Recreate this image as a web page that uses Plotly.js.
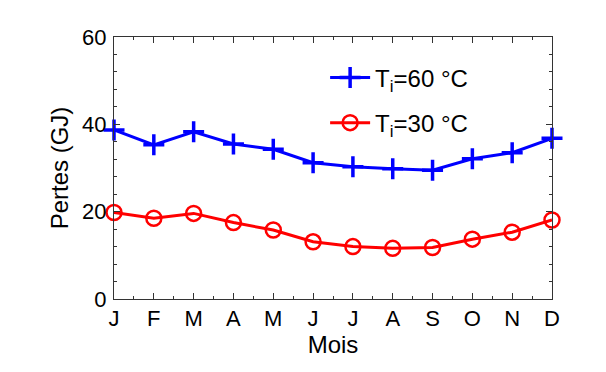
<!DOCTYPE html>
<html>
<head>
<meta charset="utf-8">
<script src="https://cdn.plot.ly/plotly-3.0.1.min.js"></script>
<style>html,body{margin:0;padding:0;background:#fff}#chart{width:606px;height:372px}</style>
</head>
<body>
<div id="chart"></div>
<script>
const months = ['J','F','M','A','M','J','J','A','S','O','N','D'];
const monthIdx = [0,1,2,3,4,5,6,7,8,9,10,11];
const pertes60 = [38.7, 35.3, 38.3, 35.5, 34.3, 31.2, 30.3, 29.8, 29.5, 32.1, 33.5, 36.8];
const pertes30 = [19.8, 18.5, 19.6, 17.5, 15.8, 13.1, 12.0, 11.6, 11.8, 13.7, 15.3, 18.1];
const yTicks = [0, 20, 40, 60];
const name60 = 'T<sub>i</sub>=60 °C';
const name30 = 'T<sub>i</sub>=30 °C';

const fam = 'Liberation Sans, Arial, sans-serif';
const tickFont = {family: fam, size: 22, color: '#000'};
const titleFont = {family: fam, size: 24, color: '#000'};
const legendFont = {family: fam, size: 24, color: '#000'};

const traces = [
  {x: monthIdx, y: pertes60, name: name60, legendgroup: 'a', type: 'scatter', mode: 'lines+markers',
   line: {color: '#0000ff', width: 3},
   marker: {symbol: 'cross-thin', size: 15, color: '#0000ff', line: {color: '#0000ff', width: 3.5}},
   cliponaxis: false},
  {x: monthIdx, y: pertes30, name: name30, legendgroup: 'b', type: 'scatter', mode: 'lines+markers',
   line: {color: '#ff0000', width: 3},
   marker: {symbol: 'circle-open', size: 15, color: '#ff0000', line: {color: '#ff0000', width: 2.5}},
   cliponaxis: false}
];

const layout = {
  width: 606, height: 372,
  margin: {l: 114, r: 54, t: 37, b: 73, pad: 0},
  paper_bgcolor: '#fff', plot_bgcolor: '#fff',
  font: tickFont,
  showlegend: true,
  legend: {x: 0.482, y: 0.93, xanchor: 'left', yanchor: 'top', bgcolor: 'rgba(0,0,0,0)',
           font: legendFont, itemwidth: 40, traceorder: 'grouped', tracegroupgap: 11},
  xaxis: {
    range: [0, 11], tickvals: monthIdx, ticktext: months,
    showgrid: false, zeroline: false, showline: true, linecolor: '#333', linewidth: 1,
    mirror: 'ticks', ticks: 'inside', ticklen: 6, tickcolor: '#333',
    minor: {dtick: 0.5, tick0: 0, ticks: 'inside', ticklen: 3, tickcolor: '#333', showgrid: false},
    tickfont: tickFont,
    title: {text: 'Mois', font: titleFont, standoff: 3}
  },
  yaxis: {
    range: [0, 60], tickvals: yTicks,
    showgrid: false, zeroline: false, showline: true, linecolor: '#333', linewidth: 1,
    mirror: 'ticks', ticks: 'inside', ticklen: 6, tickcolor: '#333', ticklabelstandoff: 2,
    minor: {dtick: 4, tick0: 0, ticks: 'inside', ticklen: 3, tickcolor: '#333', showgrid: false},
    tickfont: tickFont,
    title: {text: 'Pertes (GJ)', font: titleFont, standoff: 6}
  }
};

Plotly.newPlot('chart', traces, layout, {displayModeBar: false, staticPlot: true});
</script>
</body>
</html>
